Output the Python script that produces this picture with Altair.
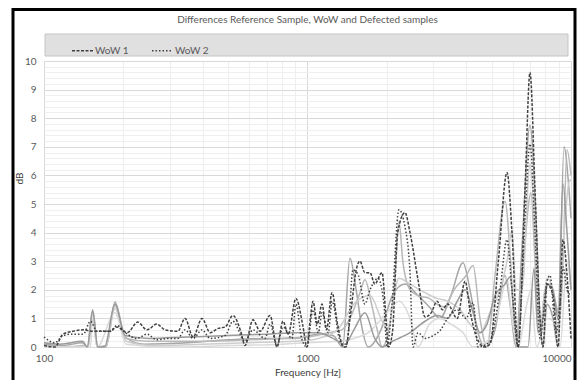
import altair as alt
import pandas as pd

TITLE = "Differences Reference Sample, WoW and Defected samples"

# (frequency Hz, dB) pairs
wow1 = [(100,0.05),(110,0.0),(118,0.45),(129,0.55),(141,0.6),(152,0.55),(159,0.55),(178,0.55),(189,0.7),(207,0.5),
        (227,0.87),(246,0.6),(268,0.8),(288,0.6),(322,0.55),(343,1.0),(368,0.35),(398,1.0),(427,0.5),(458,0.65),
        (487,0.7),(521,1.1),(560,0.5),(579,0.05),(621,0.95),(661,0.55),(721,1.1),(766,0.0),(807,0.9),(845,0.45),
        (904,1.7),(960,0.75),(995,0.0),(1025,1.0),(1049,1.6),(1090,0.8),(1135,1.5),(1180,0.6),(1239,1.9),(1300,0.8),
        (1360,0.05),(1400,0.0),(1450,1.0),(1540,2.8),(1582,3.0),(1650,2.6),(1727,2.6),(1800,2.2),(1918,2.6),(1980,1.2),
        (2030,0.0),(2100,0.5),(2200,4.0),(2344,4.7),(2449,4.0),(2627,2.35),(2793,1.05),(2950,1.2),(3101,1.6),(3250,1.3),
        (3400,1.5),(3700,1.0),(3963,2.3),(4150,1.2),(4400,0.3),(4700,0.0),(4928,0.1),(5300,3.0),(5717,6.1),(5972,4.0),
        (6295,0.0),(6690,5.5),(6989,9.6),(7302,5.5),(7628,1.0),(7830,0.0),(8108,2.2),(8545,1.8),(8926,0.0),(9325,3.75),
        (9660,2.5),(10000,0.3)]

wow2 = [(100,0.35),(110,0.15),(118,0.4),(129,0.45),(141,0.45),(150,0.9),(159,0.55),(178,0.55),(189,0.75),(207,0.45),
        (225,0.3),(246,0.45),(268,0.25),(295,0.3),(322,0.3),(343,0.6),(368,0.3),(398,0.6),(427,0.3),(487,0.4),
        (521,0.9),(579,0.2),(621,0.6),(690,0.3),(721,0.8),(766,0.05),(807,0.7),(873,0.3),(904,1.5),(950,0.3),
        (995,0.0),(1049,1.3),(1100,0.5),(1135,1.2),(1200,0.5),(1239,1.6),(1320,0.3),(1380,0.0),(1420,0.3),(1488,2.7),
        (1560,2.5),(1650,1.5),(1727,2.0),(1851,2.4),(1950,1.5),(2003,0.0),(2093,1.5),(2223,4.8),(2344,4.2),(2449,2.6),
        (2515,0.0),(2627,0.5),(2793,0.3),(3000,0.4),(3200,0.6),(3400,1.0),(3700,1.3),(4000,1.0),(4250,1.55),(4436,0.0),
        (4928,0.2),(5378,2.0),(5717,3.75),(5972,2.0),(6295,0.0),(6690,4.5),(6989,7.1),(7302,4.0),(7628,0.3),(8108,2.3),
        (8322,2.5),(8770,0.5),(9082,1.5),(9325,2.8),(9660,2.0),(10000,1.8)]

defect1 = [(100,0.1),(118,0.05),(140,0.15),(146,0.0),(153,1.3),(160,0.0),(172,0.05),(186,1.57),(203,0.35),(240,0.1),
           (350,0.15),(500,0.25),(700,0.3),(900,0.3),(1100,0.45),(1250,0.4),(1360,0.0),(1449,3.1),(1530,2.0),(1600,0.8),
           (1700,0.0),(1900,0.6),(2100,1.8),(2344,2.2),(2627,1.8),(2900,1.4),(3183,1.0),(3500,1.8),(3893,2.95),(4137,2.0),
           (4436,0.5),(4716,0.0),(5147,0.6),(5618,2.5),(5868,1.5),(6184,0.0),(6517,3.5),(6989,7.75),(7400,4.0),(7628,1.0),
           (7830,0.0),(8108,1.5),(8545,1.0),(8926,0.0),(9406,7.0),(9826,5.5),(10000,4.5)]

defect2 = [(100,0.05),(125,0.0),(140,0.05),(147,0.0),(153,1.22),(159,0.0),(172,0.0),(186,1.45),(205,0.3),(250,0.2),
           (400,0.2),(600,0.25),(800,0.3),(1000,0.35),(1200,0.5),(1350,0.6),(1450,1.0),(1582,1.9),(1652,2.35),(1760,1.4),
           (1850,0.5),(1918,0.0),(2003,0.3),(2150,2.5),(2223,4.4),(2300,3.0),(2449,2.0),(2627,1.8),(2900,1.7),(3101,1.5),
           (3300,1.4),(3600,2.0),(4000,2.5),(4250,2.85),(4514,1.0),(4800,0.0),(5147,2.5),(5618,5.1),(5900,3.0),(6184,0.0),
           (6600,3.0),(7051,5.4),(7302,3.0),(7628,0.5),(7966,2.0),(8322,2.2),(8770,1.5),(9082,1.0),(9325,3.0),(9660,6.9),
           (10000,6.0)]

defect3 = [(100,0.0),(140,0.02),(147,0.0),(153,1.15),(159,0.0),(172,0.05),(186,1.35),(205,0.2),(260,0.05),(400,0.1),
           (600,0.15),(900,0.2),(1100,0.3),(1300,0.6),(1500,1.5),(1727,1.8),(1900,1.0),(2003,0.6),(2223,2.4),(2449,2.2),
           (2793,1.9),(3101,1.7),(3400,1.6),(3800,1.3),(4137,0.8),(4514,0.5),(4928,1.2),(5378,2.0),(5717,3.0),(5972,4.1),
           (6184,2.0),(6517,2.0),(6989,6.4),(7302,4.0),(7628,0.5),(8108,2.4),(8545,2.0),(8926,0.5),(9406,4.0),(9913,5.85),
           (10000,5.8)]

defect4 = [(100,0.0),(150,0.0),(153,1.0),(159,0.0),(186,1.2),(205,0.1),(300,0.0),(500,0.05),(800,0.1),(1000,0.15),
           (1300,0.2),(1500,0.3),(1700,0.5),(2000,1.2),(2223,1.6),(2449,1.0),(2627,0.0),(2900,0.8),(3183,1.0),(3500,0.8),
           (3893,0.5),(4250,0.0),(4928,0.3),(5378,1.5),(5717,2.4),(5972,1.0),(6295,0.0),(6800,1.5),(7051,2.0),(7400,0.0),
           (8108,1.0),(8770,0.8),(9082,0.0),(9660,3.0),(10000,2.0)]

defect5 = [(100,0.15),(115,0.1),(140,0.2),(146,0.0),(153,1.25),(160,0.0),(170,0.02),(186,1.5),(203,0.4),(250,0.3),
           (350,0.35),(500,0.4),(700,0.45),(900,0.5),(1100,0.5),(1250,0.3),(1387,0.1),(1500,0.6),(1652,1.2),(1800,0.3),
           (1918,0.0),(2100,0.2),(2449,0.5),(2793,0.9),(3101,1.1),(3400,1.0),(3700,1.6),(3963,2.0),(4250,1.2),(4514,0.5),
           (4800,0.8),(5147,1.8),(5618,2.2),(5868,2.45),(6100,1.0),(6295,0.0),(6867,0.0),(7237,2.75),(7496,0.5),(7830,1.0),
           (8108,2.2),(8545,2.0),(8926,1.0),(9325,5.7),(9660,4.0),(10000,2.0)]

wow_names = ["WoW 1", "WoW 2"]
defect_names = ["Defect 1", "Defect 2", "Defect 3", "Defect 4", "Defect 5"]
defect_colors = ["#a6a6a6", "#b8b8b8", "#cdcdcd", "#dadada", "#9a9a9a"]

x_ticks = [100, 200, 300, 400, 500, 600, 700, 800, 900,
           1000, 2000, 3000, 4000, 5000, 6000, 7000, 8000, 9000, 10000]
y_ticks = [round(i * 0.2, 1) for i in range(51)]


def frame(name, pairs):
    return pd.DataFrame({"series": name, "freq": [p[0] for p in pairs], "db": [p[1] for p in pairs]})


wow_df = pd.concat([frame("WoW 1", wow1), frame("WoW 2", wow2)])
def_df = pd.concat([frame(n, s) for n, s in zip(defect_names, [defect1, defect2, defect3, defect4, defect5])])

FONT = "Lato"
W, H = 527, 286

xenc = alt.X("freq:Q",
             scale=alt.Scale(type="log", domain=[100, 10000]),
             axis=alt.Axis(values=x_ticks, format="d",
                           labelExpr="(datum.value == 100 || datum.value == 1000 || datum.value == 10000) ? datum.label : ''",
                           labelAlign={"condition": {"test": "datum.value == 10000", "value": "right"}, "value": "center"},
                           title="Frequency [Hz]", titleFont=FONT, titleFontSize=10, titleFontWeight="normal",
                           titleColor="#404040", titlePadding=4,
                           labelFont=FONT, labelFontSize=10, labelColor="#595959", labelPadding=6,
                           labelOverlap=False, labelFlush=False, ticks=False, domain=False,
                           gridColor={"condition": {"test": "datum.value == 100 || datum.value == 1000 || datum.value == 10000",
                                                    "value": "#d9d9d9"}, "value": "#efefef"}))
yenc = alt.Y("db:Q",
             scale=alt.Scale(domain=[0, 10], nice=False),
             axis=alt.Axis(values=y_ticks, format=".0f",
                           labelExpr="datum.value % 1 === 0 ? datum.label : ''",
                           title="dB", titleFont=FONT, titleFontSize=10, titleFontWeight="normal",
                           titleColor="#404040", titleX=-20, titleY=117,
                           labelFont=FONT, labelFontSize=10, labelColor="#595959", labelPadding=8,
                           labelOverlap=False, ticks=False, domain=False,
                           gridColor={"condition": {"test": "datum.value % 1 === 0", "value": "#d9d9d9"},
                                      "value": "#efefef"}))

box_df = pd.DataFrame({"k": [0]})

outer = alt.Chart(box_df).mark_rect(fillOpacity=0, stroke="#000000", strokeWidth=3).encode(
    x=alt.value(-31), x2=alt.value(531), y=alt.value(-51.5), y2=alt.value(345))
legend_box = alt.Chart(box_df).mark_rect(fill="#e0e0e0", stroke="#c4c4c4", strokeWidth=1).encode(
    x=alt.value(1), x2=alt.value(524), y=alt.value(-27), y2=alt.value(-5))
title = alt.Chart(pd.DataFrame({"t": [TITLE]})).mark_text(
    font=FONT, fontSize=10, color="#595959", align="center", baseline="middle").encode(
    x=alt.value(W / 2), y=alt.value(-41), text="t:N")

grays = alt.Chart(def_df).mark_line(interpolate="monotone", strokeWidth=1.5).encode(
    x=xenc, y=yenc,
    color=alt.Color("series:N", scale=alt.Scale(domain=defect_names, range=defect_colors), legend=None))

wows = alt.Chart(wow_df).mark_line(interpolate="monotone", strokeWidth=1.5, color="#404040").encode(
    x=xenc, y=yenc,
    strokeDash=alt.StrokeDash("series:N",
                              scale=alt.Scale(domain=wow_names, range=[[3, 1.5], [1.5, 2]]),
                              legend=alt.Legend(orient="none", legendX=27, legendY=-22, direction="horizontal",
                                                title=None, symbolType="stroke", symbolSize=440,
                                                symbolStrokeColor="#404040", symbolStrokeWidth=1.3,
                                                labelFont=FONT, labelFontSize=10, labelColor="#595959",
                                                labelOffset=1, columnPadding=20, padding=0)))

chart = alt.layer(outer, legend_box, title, grays, wows).properties(
    width=W, height=H,
    autosize=alt.AutoSizeParams(type="none"),
    padding={"left": 36, "top": 53, "right": 6, "bottom": 33},
    background="white",
).configure_view(stroke=None)

chart.save("out.html", embed_options={"renderer": "svg", "actions": False})
